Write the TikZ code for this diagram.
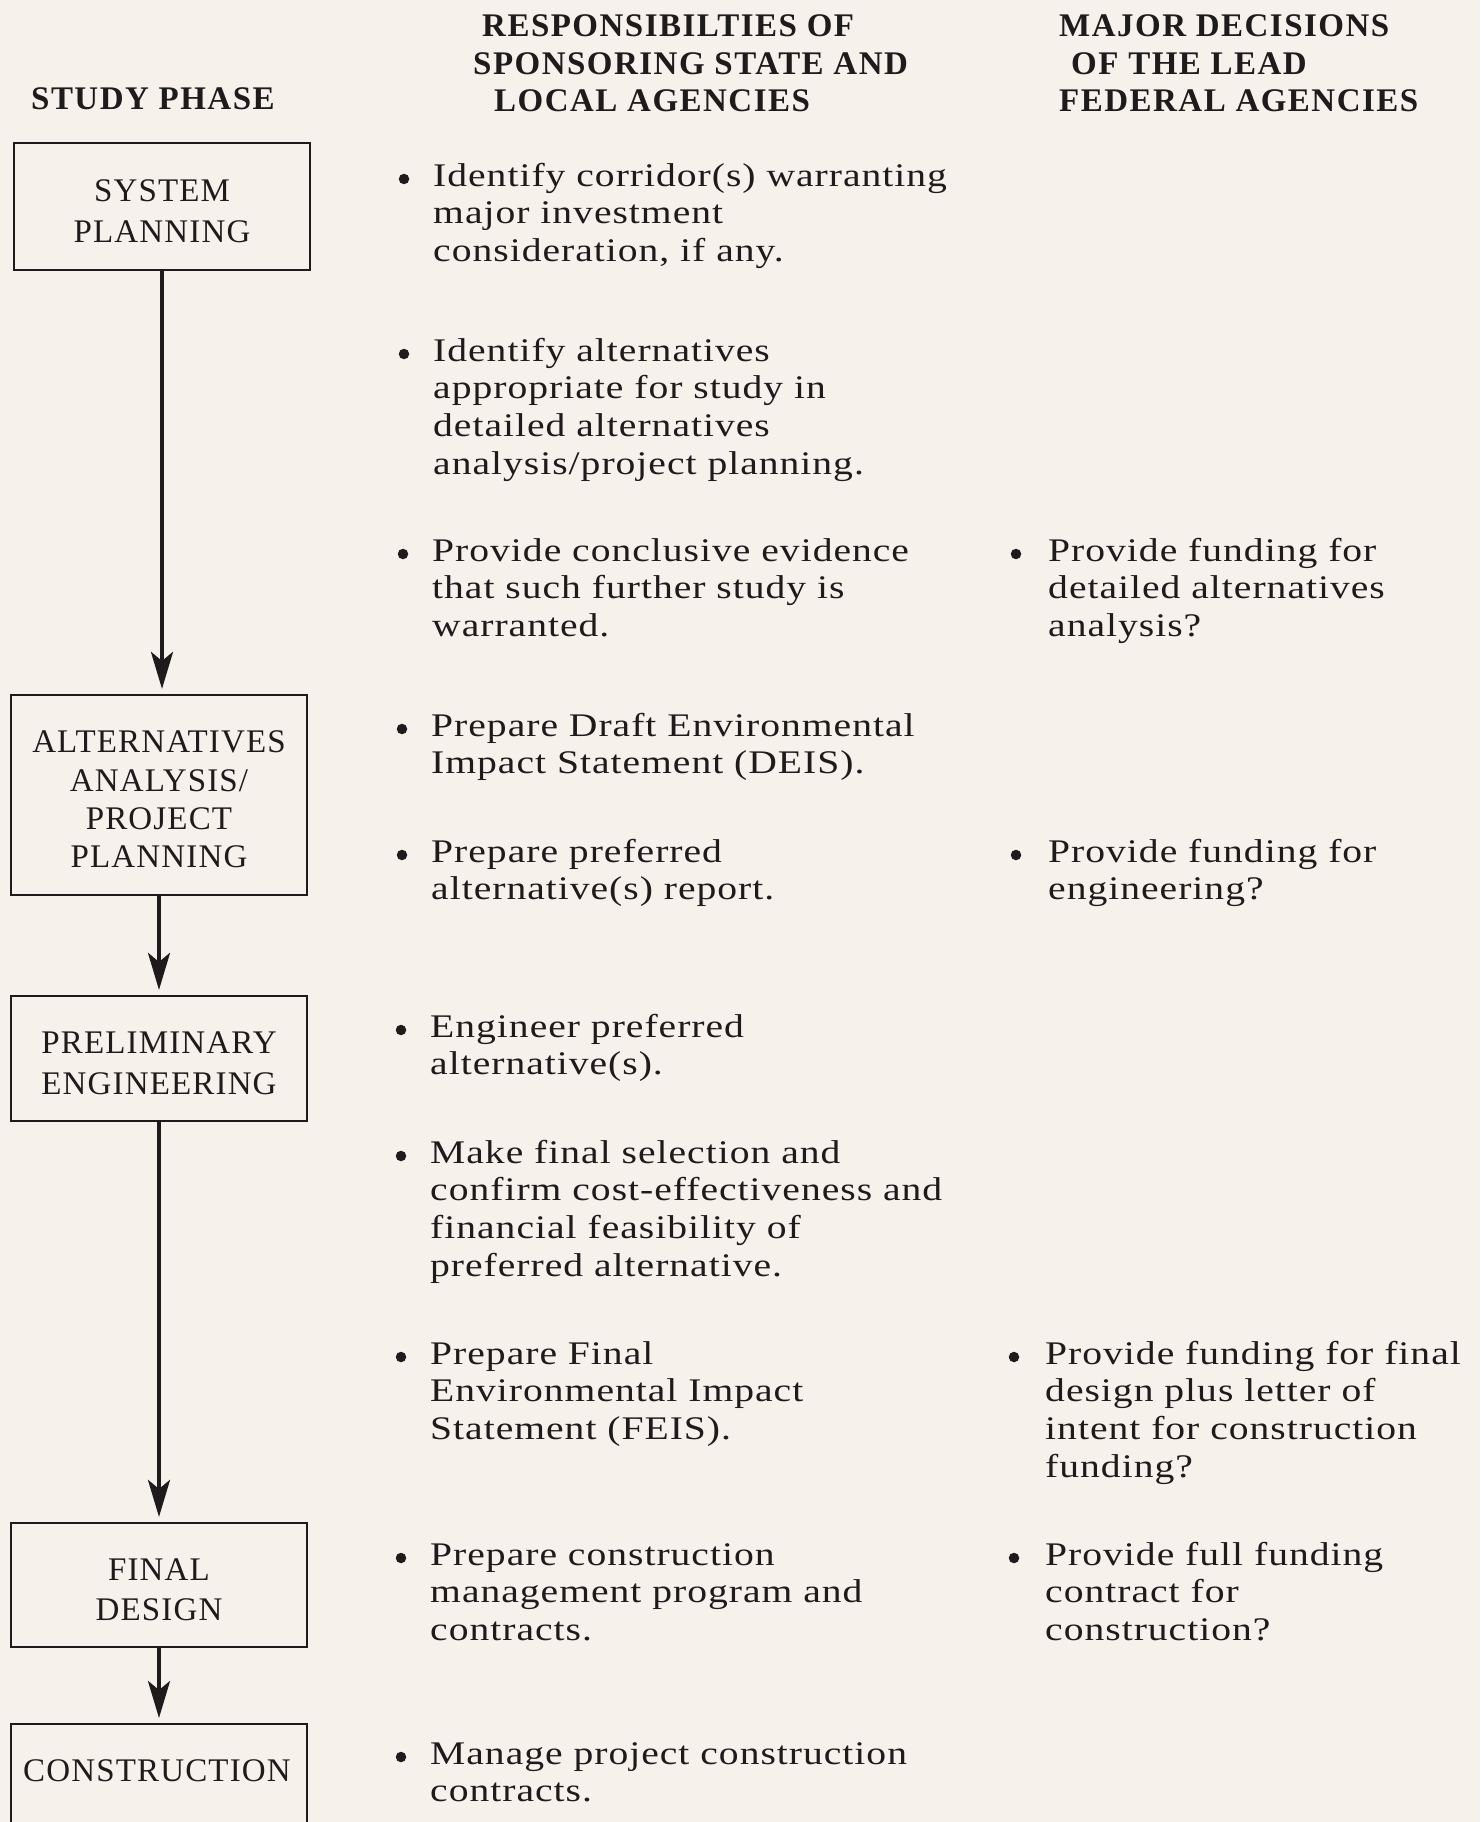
\documentclass[tikz,border=0pt]{standalone}
\usepackage{fontspec}
\setmainfont{Liberation Serif}
\newfontfamily\bodyfam{Liberation Serif}[FakeStretch=1.2,LetterSpace=3]
\newfontfamily\headfam{Liberation Serif}[LetterSpace=4.5]
\newfontfamily\phasefam{Liberation Serif}[LetterSpace=3.5]
\usetikzlibrary{arrows.meta}
\definecolor{paper}{RGB}{246,241,235}
\definecolor{ink}{RGB}{30,27,28}
% text blocks: baseline of the node is the baseline of the first line
\newcommand{\itemblock}[1]{\parbox[t]{620pt}{\bodyfam\fontsize{33}{37.8}\selectfont\raggedright #1}}
\newcommand{\headblock}[1]{\parbox[t]{620pt}{\headfam\bfseries\fontsize{33}{37.2}\selectfont\raggedright #1}}
\newcommand{\phasefont}{\phasefam\fontsize{33}{40.7}\selectfont}
\newcommand{\phasefonttight}{\phasefam\fontsize{33}{38.4}\selectfont}
% extra room above the first line of a phase label, to sit it a little lower
\newcommand{\toproom}{\rule{0pt}{31pt}}
\begin{document}
\begin{tikzpicture}[x=1pt,y=-1pt,
  phase/.style={draw=ink, line width=2.2pt, minimum width=296pt, inner sep=0pt,
                align=center, font=\phasefont, text=ink},
  item/.style={anchor=base west, inner sep=0pt, text=ink},
  dot/.style={circle, fill=ink, inner sep=0pt, minimum size=10.5pt},
  flow/.style={draw=ink, line width=4pt, shorten >=5pt,
               -{Stealth[length=37pt,width=22pt,inset=9pt]}}]
\useasboundingbox (0,0) rectangle (1480,1822);
\fill[paper] (0,0) rectangle (1480,1822);

% column headings
\node[item] (hphase) at (31,110) {\headblock{STUDY PHASE}};
\node[item] (hlocal) at (473,37) {\headblock{\hspace*{9pt}RESPONSIBILTIES OF\\SPONSORING STATE AND\\\hspace*{21pt}LOCAL AGENCIES}};
\node[item] (hfed) at (1059,37) {\headblock{MAJOR DECISIONS\\\hspace*{12pt}OF THE LEAD\\FEDERAL AGENCIES}};

% study phases
\node[phase, minimum height=127pt] (sys) at (162,206.5) {\toproom SYSTEM\\PLANNING};
\node[phase, minimum height=200pt, font=\phasefonttight] (alt) at (159,795) {\toproom ALTERNATIVES\\ANALYSIS/\\PROJECT\\PLANNING};
\node[phase, minimum height=125pt] (pre) at (159,1058.5) {\toproom PRELIMINARY\\ENGINEERING};
\node[phase, minimum height=124pt] (fin) at (159,1585) {\toproom FINAL\\DESIGN};
\node[phase, minimum height=200pt, anchor=north] (con) at (159,1723) {};
\node[text=ink, font=\phasefont, inner sep=0pt] (contxt) at (157,1771) {CONSTRUCTION};

\draw[flow] (sys.south) -- (sys.south |- alt.north);
\draw[flow] (alt.south) -- (alt.south |- pre.north);
\draw[flow] (pre.south) -- (pre.south |- fin.north);
\draw[flow] (fin.south) -- (fin.south |- con.north);

% responsibilities of sponsoring state and local agencies
\node[item] (r1) at (433,186) {\itemblock{Identify corridor(s) warranting\\major investment\\consideration, if any.}};
\node[item] (r2) at (433,361) {\itemblock{Identify alternatives\\appropriate for study in\\detailed alternatives\\analysis/project planning.}};
\node[item] (r3) at (432,561) {\itemblock{Provide conclusive evidence\\that such further study is\\warranted.}};
\node[item] (r4) at (431,736) {\itemblock{Prepare Draft Environmental\\Impact Statement (DEIS).}};
\node[item] (r5) at (431,862) {\itemblock{Prepare preferred\\alternative(s) report.}};
\node[item] (r6) at (430,1037) {\itemblock{Engineer preferred\\alternative(s).}};
\node[item] (r7) at (430,1163) {\itemblock{Make final selection and\\confirm cost-effectiveness and\\financial feasibility of\\preferred alternative.}};
\node[item] (r8) at (430,1364) {\itemblock{Prepare Final\\Environmental Impact\\Statement (FEIS).}};
\node[item] (r9) at (430,1565) {\itemblock{Prepare construction\\management program and\\contracts.}};
\node[item] (r10) at (430,1764) {\itemblock{Manage project construction\\contracts.}};

\node[dot] (d1) at (404,179) {};
\node[dot] (d2) at (404,354) {};
\node[dot] (d3) at (403,554) {};
\node[dot] (d4) at (402,729) {};
\node[dot] (d5) at (402,855) {};
\node[dot] (d6) at (401,1030) {};
\node[dot] (d7) at (401,1156) {};
\node[dot] (d8) at (401,1357) {};
\node[dot] (d9) at (401,1558) {};
\node[dot] (d10) at (401,1757) {};

% major decisions of the lead federal agencies
\node[item] (f1) at (1048,561) {\itemblock{Provide funding for\\detailed alternatives\\analysis?}};
\node[item] (f2) at (1048,862) {\itemblock{Provide funding for\\engineering?}};
\node[item] (f3) at (1045,1364) {\itemblock{Provide funding for final\\design plus letter of\\intent for construction\\funding?}};
\node[item] (f4) at (1045,1565) {\itemblock{Provide full funding\\contract for\\construction?}};

\node[dot] (e1) at (1016,554) {};
\node[dot] (e2) at (1016,855) {};
\node[dot] (e3) at (1014,1357) {};
\node[dot] (e4) at (1014,1558) {};
\end{tikzpicture}
\end{document}
